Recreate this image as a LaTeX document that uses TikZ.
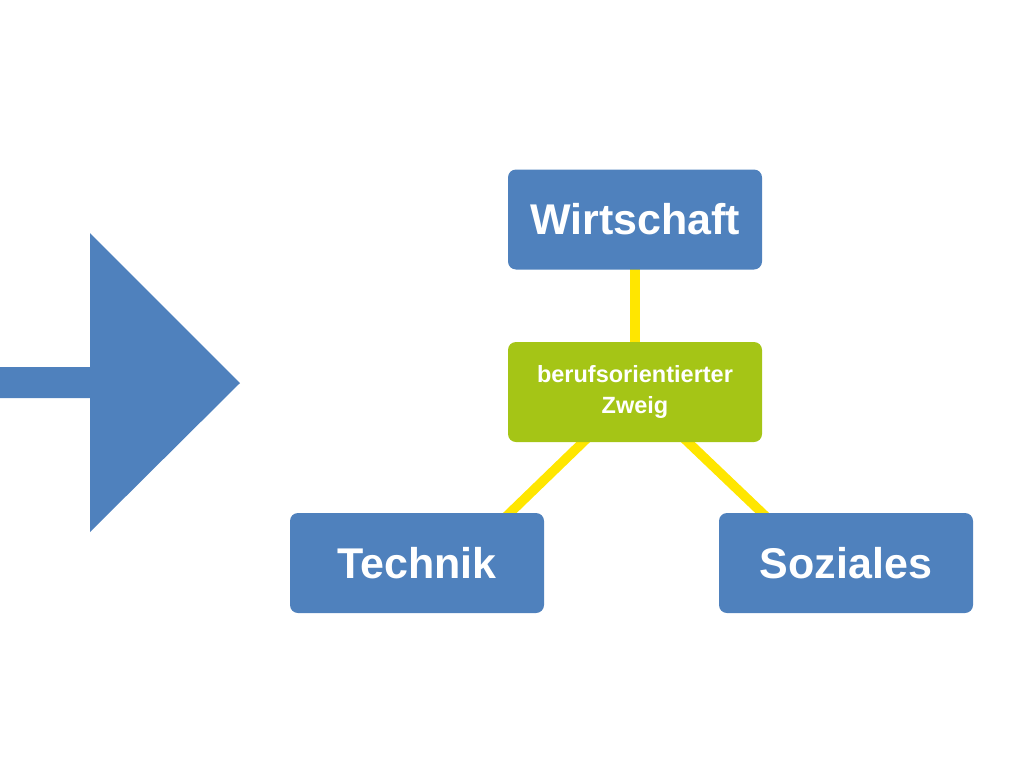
\documentclass[tikz,border=0pt]{standalone}
\usepackage{fontspec}
\setmainfont{Liberation Sans}
\usetikzlibrary{calc,backgrounds}
\definecolor{boxblue}{HTML}{4F81BD}
\definecolor{boxgreen}{HTML}{A5C516}
\definecolor{lineyellow}{HTML}{FFE600}
\begin{document}
\begin{tikzpicture}[x=1pt,y=-1pt,
  bluebox/.style={fill=boxblue, draw=none, rounded corners=8pt, minimum width=254pt, minimum height=100pt, inner sep=0pt, text=white, font=\fontsize{43}{48}\selectfont\bfseries},
  greenbox/.style={fill=boxgreen, draw=none, rounded corners=8pt, minimum width=254pt, minimum height=100pt, inner sep=0pt, text=white, align=center, font=\fontsize{23.5}{31}\selectfont\bfseries},
  link/.style={draw=lineyellow, line width=9.5pt, shorten >=-6pt, shorten <=-6pt}]
\useasboundingbox (0,0) rectangle (1024,768);
% big arrow
\fill[boxblue] (0,367) -- (90,367) -- (90,233) -- (240,383) -- (90,532) -- (90,398) -- (0,398) -- cycle;
\path (635,219.5) node[bluebox] (wirt) {\raisebox{2pt}{Wirtschaft}};
\path (635,392) node[greenbox] (zweig) {berufsorientierter\\Zweig};
\path (417,563) node[bluebox] (tech) {Technik};
\path (846,563) node[bluebox] (soz) {Soziales};
\begin{pgfonlayer}{background}
\draw[link] (wirt.south) -- (zweig.north);
\draw[link] ($(zweig.south)+(-52,0)$) -- ($(tech.north)+(93,0)$);
\draw[link] ($(zweig.south)+(53,0)$) -- ($(soz.north)+(-84,0)$);
\end{pgfonlayer}
\end{tikzpicture}
\end{document}
